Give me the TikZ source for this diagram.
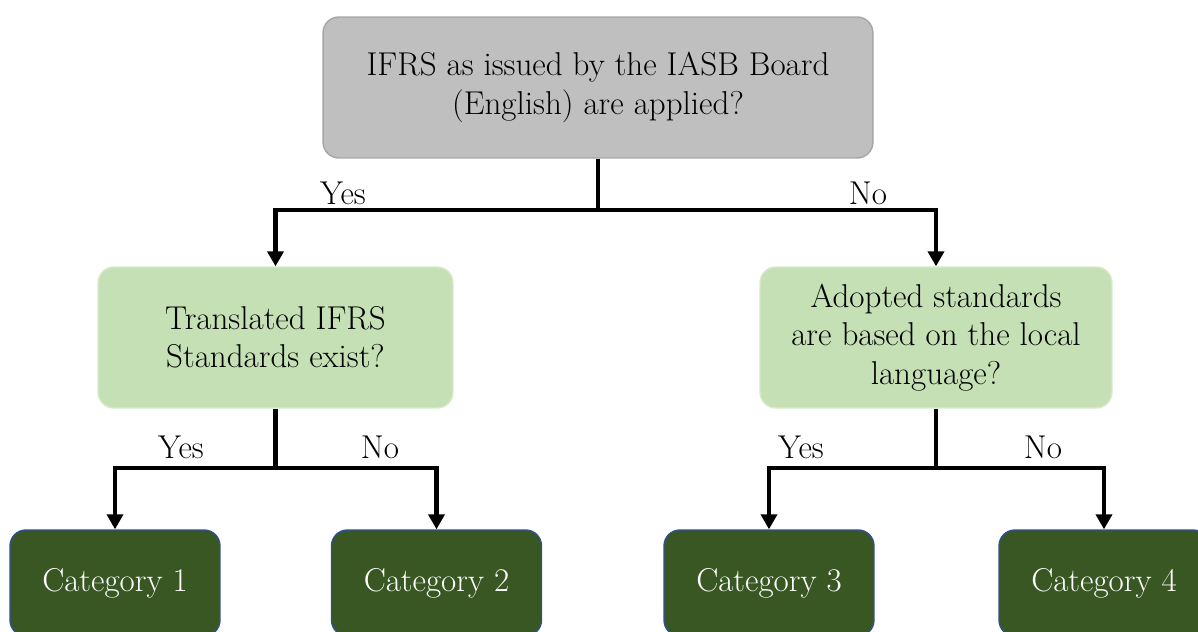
\documentclass[tikz,border=0pt]{standalone}
\usepackage{xcolor}
\usetikzlibrary{arrows.meta}

\definecolor{qgray}{HTML}{BFBFBF}
\definecolor{qgrayline}{HTML}{A6A6A6}
\definecolor{qgreen}{HTML}{C5E0B4}
\definecolor{qgreenline}{HTML}{D6EACB}
\definecolor{catgreen}{HTML}{385723}
\definecolor{catline}{HTML}{2F528F}

\begin{document}
\begin{tikzpicture}[
  x=0.02cm, y=-0.02cm,
  font=\fontsize{18.8}{21.8}\selectfont,
  >={Triangle[length=3mm, width=3.2mm]},
  question/.style={draw=qgrayline, line width=0.8pt, rounded corners=9pt, fill=qgray,
                   align=center, minimum height=2.82cm},
  check/.style={draw=qgreenline, line width=0.8pt, rounded corners=9pt, fill=qgreen,
                align=center, minimum height=2.82cm},
  cat/.style={draw=catline, line width=0.8pt, rounded corners=9pt, fill=catgreen,
              text=white, align=center, minimum width=4.2cm, minimum height=2.12cm},
  flow/.style={->, line width=2.3pt},
  lbl/.style={inner sep=0pt}
]
\useasboundingbox (0,0) rectangle (1198,632);

\node[question, minimum width=11cm] (top) at (598,87.5) {IFRS as issued by the IASB Board\\(English) are applied?};
\node[check, minimum width=7.1cm]  (trans) at (275.5,337.5) {Translated IFRS\\Standards exist?};
\node[check, minimum width=7.04cm] (adopt) at (936,337.5) {Adopted standards\\are based on the local\\language?};

\node[cat] (cat1) at (115,583)    {Category 1};
\node[cat] (cat2) at (436.5,583)  {Category 2};
\node[cat] (cat3) at (769,583)    {Category 3};
\node[cat] (cat4) at (1104,583)   {Category 4};

% junctions
\coordinate (jtop)   at (598,210);
\coordinate (jtrans) at (275.5,468);
\coordinate (jadopt) at (936,468);

\draw[line width=2.3pt] (top.south) -- (jtop);
\draw[flow] (jtop) -| (trans.north);
\draw[flow] (jtop) -| (adopt.north);
\draw[line width=2.3pt] (trans.south) -- (jtrans);
\draw[flow] (jtrans) -| (cat1.north);
\draw[flow] (jtrans) -| (cat2.north);
\draw[line width=2.3pt] (adopt.south) -- (jadopt);
\draw[flow] (jadopt) -| (cat3.north);
\draw[flow] (jadopt) -| (cat4.north);

\node[lbl] (yes1) at (343,193)  {Yes};
\node[lbl] (no1)  at (868,193)  {No};
\node[lbl] (yes2) at (181,447)  {Yes};
\node[lbl] (no2)  at (380,447)  {No};
\node[lbl] (yes3) at (801,447)  {Yes};
\node[lbl] (no3)  at (1043,447) {No};
\end{tikzpicture}
\end{document}
